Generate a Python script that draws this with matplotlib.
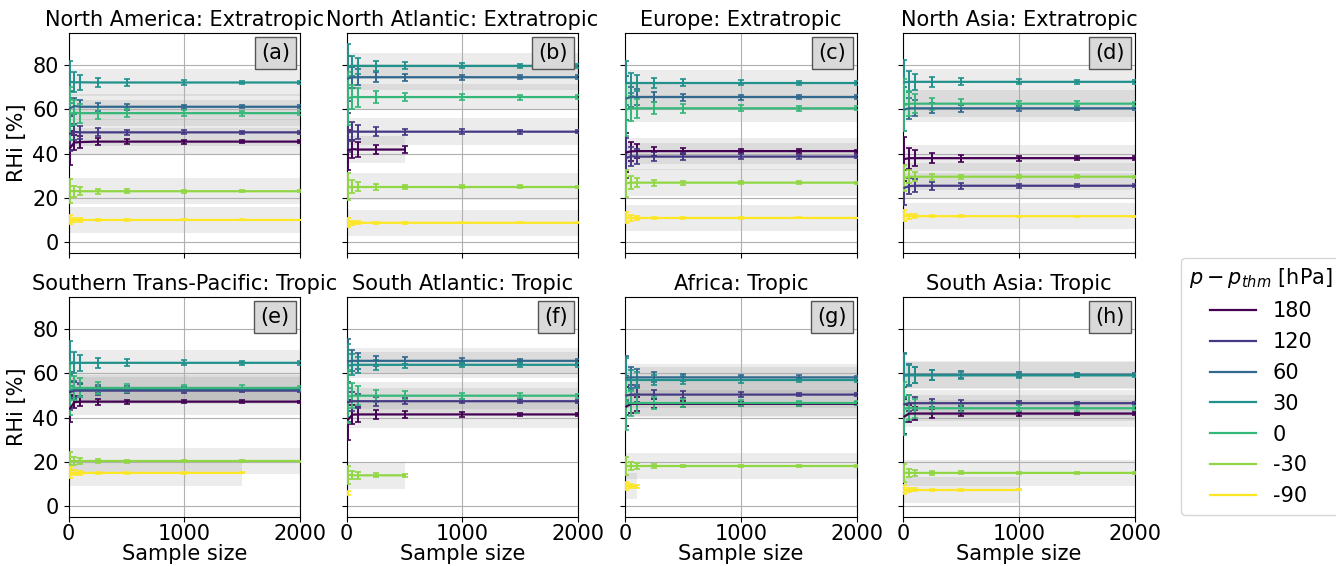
import matplotlib
matplotlib.use("Agg")
import matplotlib.pyplot as plt
import numpy as np

# ---------------- data ----------------
sample_sizes = [10, 50, 100, 250, 500, 1000, 1500, 2000]
levels = [180, 120, 60, 30, 0, -30, -90]
level_labels = ["180", "120", "60", "30", "0", "-30", "-90"]

titles = ["North America: Extratropic", "North Atlantic: Extratropic",
          "Europe: Extratropic", "North Asia: Extratropic",
          "Southern Trans-Pacific: Tropic", "South Atlantic: Tropic",
          "Africa: Tropic", "South Asia: Tropic"]
panel_tags = ["(a)", "(b)", "(c)", "(d)", "(e)", "(f)", "(g)", "(h)"]

# mean RHi per level (order of `levels`), one value per sample size
rhi_a = [[42.5, 45.0, 45.2, 45.4, 45.4, 45.4, 45.4, 45.4],
         [49.0, 49.8, 49.6, 49.6, 49.6, 49.6, 49.6, 49.6],
         [60.5, 61.5, 61.2, 61.2, 61.2, 61.2, 61.2, 61.2],
         [72.5, 72.3, 72.3, 72.2, 72.2, 72.2, 72.2, 72.2],
         [58.0, 58.5, 58.3, 58.3, 58.3, 58.3, 58.3, 58.3],
         [23.0, 23.0, 22.9, 22.9, 22.9, 22.9, 22.9, 22.9],
         [10.0, 9.9, 9.9, 9.9, 9.9, 9.9, 9.9, 9.9]]
rhi_b = [[41.5, 42.0, 41.8, 41.8, 41.8],
         [49.5, 50.0, 49.9, 49.9, 49.9, 49.9, 49.9, 49.9],
         [74.0, 74.6, 74.6, 74.6, 74.6, 74.6, 74.6, 74.6],
         [79.5, 79.7, 79.7, 79.7, 79.7, 79.7, 79.7, 79.7],
         [65.0, 65.6, 65.6, 65.6, 65.6, 65.6, 65.6, 65.6],
         [25.0, 25.0, 25.0, 25.0, 25.0, 25.0, 25.0, 25.0],
         [8.8, 8.6, 8.6, 8.6, 8.6, 8.6, 8.6, 8.6]]
rhi_c = [[40.5, 41.0, 41.1, 41.1, 41.1, 41.1, 41.1, 41.1],
         [38.0, 38.8, 38.6, 38.6, 38.6, 38.6, 38.6, 38.6],
         [65.0, 65.6, 65.6, 65.6, 65.6, 65.6, 65.6, 65.6],
         [72.0, 72.0, 72.0, 72.0, 72.0, 72.0, 72.0, 72.0],
         [60.0, 60.5, 60.5, 60.5, 60.5, 60.5, 60.5, 60.5],
         [26.5, 26.8, 26.8, 26.8, 26.8, 26.8, 26.8, 26.8],
         [11.0, 10.8, 10.8, 10.8, 10.8, 10.8, 10.8, 10.8]]
rhi_d = [[37.5, 37.9, 37.9, 37.9, 37.9, 37.9, 37.9, 37.9],
         [24.5, 25.2, 25.4, 25.4, 25.4, 25.4, 25.4, 25.4],
         [60.0, 60.5, 60.5, 60.5, 60.5, 60.5, 60.5, 60.5],
         [72.3, 72.5, 72.5, 72.5, 72.5, 72.5, 72.5, 72.5],
         [62.0, 62.6, 62.6, 62.6, 62.6, 62.6, 62.6, 62.6],
         [29.0, 29.5, 29.5, 29.5, 29.5, 29.5, 29.5, 29.5],
         [11.8, 11.6, 11.6, 11.6, 11.6, 11.6, 11.6, 11.6]]
rhi_e = [[44.0, 47.0, 47.2, 47.2, 47.2, 47.2, 47.2, 47.2],
         [51.5, 52.2, 52.2, 52.2, 52.2, 52.2, 52.2, 52.2],
         [52.5, 52.8, 52.8, 52.8, 52.8, 52.8, 52.8, 52.8],
         [64.5, 64.8, 64.8, 64.8, 64.8, 64.8, 64.8, 64.8],
         [53.0, 53.4, 53.4, 53.4, 53.4, 53.4, 53.4, 53.4],
         [20.2, 20.2, 20.2, 20.2, 20.2, 20.2, 20.2, 20.2],
         [15.0, 14.9, 14.9, 14.9, 14.9, 14.9, 14.9]]
rhi_f = [[39.0, 41.3, 41.4, 41.4, 41.4, 41.4, 41.4, 41.4],
         [47.0, 47.4, 47.4, 47.4, 47.4, 47.4, 47.4, 47.4],
         [65.5, 65.7, 65.7, 65.7, 65.7, 65.7, 65.7, 65.7],
         [63.5, 63.9, 63.9, 63.9, 63.9, 63.9, 63.9, 63.9],
         [49.5, 49.9, 49.9, 49.9, 49.9, 49.9, 49.9, 49.9],
         [14.0, 13.8, 13.8, 13.8, 13.8],
         [5.9]]
rhi_g = [[45.0, 46.2, 46.2, 46.2, 46.2, 46.2, 46.2, 46.2],
         [50.0, 50.4, 50.4, 50.4, 50.4, 50.4, 50.4, 50.4],
         [58.0, 58.2, 58.2, 58.2, 58.2, 58.2, 58.2, 58.2],
         [57.0, 57.0, 57.0, 57.0, 57.0, 57.0, 57.0, 57.0],
         [46.5, 46.5, 46.5, 46.5, 46.5, 46.5, 46.5, 46.5],
         [18.0, 18.0, 18.0, 18.0, 18.0, 18.0, 18.0, 18.0],
         [9.0, 8.9, 8.9]]
rhi_h = [[40.5, 41.8, 41.8, 41.8, 41.8, 41.8, 41.8, 41.8],
         [46.0, 46.5, 46.5, 46.5, 46.5, 46.5, 46.5, 46.5],
         [59.2, 59.4, 59.4, 59.4, 59.4, 59.4, 59.4, 59.4],
         [59.0, 59.1, 59.1, 59.1, 59.1, 59.1, 59.1, 59.1],
         [44.0, 44.4, 44.2, 44.2, 44.2, 44.2, 44.2, 44.2],
         [15.0, 14.9, 14.9, 14.9, 14.9, 14.9, 14.9, 14.9],
         [7.2, 7.2, 7.2, 7.2, 7.2, 7.2]]

# error bar half-width at the smallest sample size, per level
err0_a = [7.5, 8.0, 8.0, 9.5, 12.0, 5.3, 2.1]
err0_b = [9.0, 9.0, 10.0, 10.0, 12.0, 6.0, 2.0]
err0_c = [9.0, 9.0, 10.0, 10.0, 12.0, 6.0, 2.5]
err0_d = [10.0, 8.0, 10.0, 10.0, 12.0, 6.0, 2.5]
err0_e = [6.0, 8.0, 8.0, 10.0, 12.0, 4.0, 2.5]
err0_f = [9.0, 9.0, 10.0, 10.0, 12.0, 4.0, 1.0]
err0_g = [9.0, 9.0, 10.0, 10.0, 12.0, 4.0, 2.0]
err0_h = [8.0, 8.0, 10.0, 10.0, 12.0, 4.0, 2.0]
# relative error-bar size per sample size
err_rel = [1.0, 0.47, 0.36, 0.23, 0.16, 0.115, 0.095, 0.08]
band_halfwidth = 6.0

panels = [(rhi_a, err0_a), (rhi_b, err0_b), (rhi_c, err0_c), (rhi_d, err0_d),
          (rhi_e, err0_e), (rhi_f, err0_f), (rhi_g, err0_g), (rhi_h, err0_h)]

# ---------------- figure ----------------
W, H = 1336, 566
fig = plt.figure(figsize=(W / 100, H / 100), dpi=100)
plt.rcParams['font.family'] = ['DejaVu Sans']
FS = 15

colors = plt.get_cmap('viridis')(np.linspace(0, 1, len(levels)))

col_left = [68.7, 346.7, 625.3, 903.3]
ax_w = 231.5
row_top = [33.3, 297.3]
ax_h = 219.5

handles = []
for i, ((data, err0), title, tag) in enumerate(zip(panels, titles, panel_tags)):
    r, c = divmod(i, 4)
    ax = fig.add_axes([col_left[c] / W, 1 - (row_top[r] + ax_h) / H, ax_w / W, ax_h / H])
    for k, vals in enumerate(data):
        n = len(vals)
        xs = sample_sizes[:n]
        ax.fill_between([xs[0], xs[-1]], vals[-1] - band_halfwidth, vals[-1] + band_halfwidth,
                        color='gray', alpha=0.15, linewidth=0, zorder=1)
    for k, (vals, col) in enumerate(zip(data, colors)):
        n = len(vals)
        xs = np.array(sample_sizes[:n])
        ys = np.array(vals)
        es = err0[k] * np.array(err_rel[:n])
        ax.errorbar(xs, ys, yerr=es, color=col, lw=1.6, elinewidth=1.4,
                    capsize=2.2, capthick=1.2, zorder=3)
        if i == 0:
            handles.append(plt.Line2D([], [], color=col, lw=1.6))
    ax.set_xlim(0, 2000)
    ax.set_ylim(-5, 94.5)
    ax.set_xticks([0, 1000, 2000])
    ax.set_yticks([0, 20, 40, 60, 80])
    ax.grid(True, color='#b0b0b0', lw=0.8)
    ax.tick_params(labelsize=FS)
    ax.tick_params(axis='x', pad=2)
    ax.set_title(title, fontsize=FS, pad=5)
    if c == 0:
        ax.set_ylabel("RHi [%]", fontsize=FS)
    else:
        ax.tick_params(labelleft=False)
    if r == 1:
        ax.set_xlabel("Sample size", fontsize=FS, labelpad=0)
    else:
        ax.tick_params(labelbottom=False)
    ax.text(0.955, 0.955, tag, transform=ax.transAxes, ha='right', va='top',
            fontsize=FS, zorder=5,
            bbox=dict(boxstyle='square,pad=0.3', facecolor='#d9d9d9',
                      edgecolor='#555555', lw=1))

fig.legend(handles, level_labels, title=r"$p - p_{thm}$ [hPa]",
           loc='upper left', bbox_to_anchor=(1181 / W, 1 - 258 / H),
           fontsize=FS, title_fontsize=FS, handlelength=2.2,
           labelspacing=0.52, frameon=True, borderaxespad=0)

fig.savefig("out.png", dpi=100)
